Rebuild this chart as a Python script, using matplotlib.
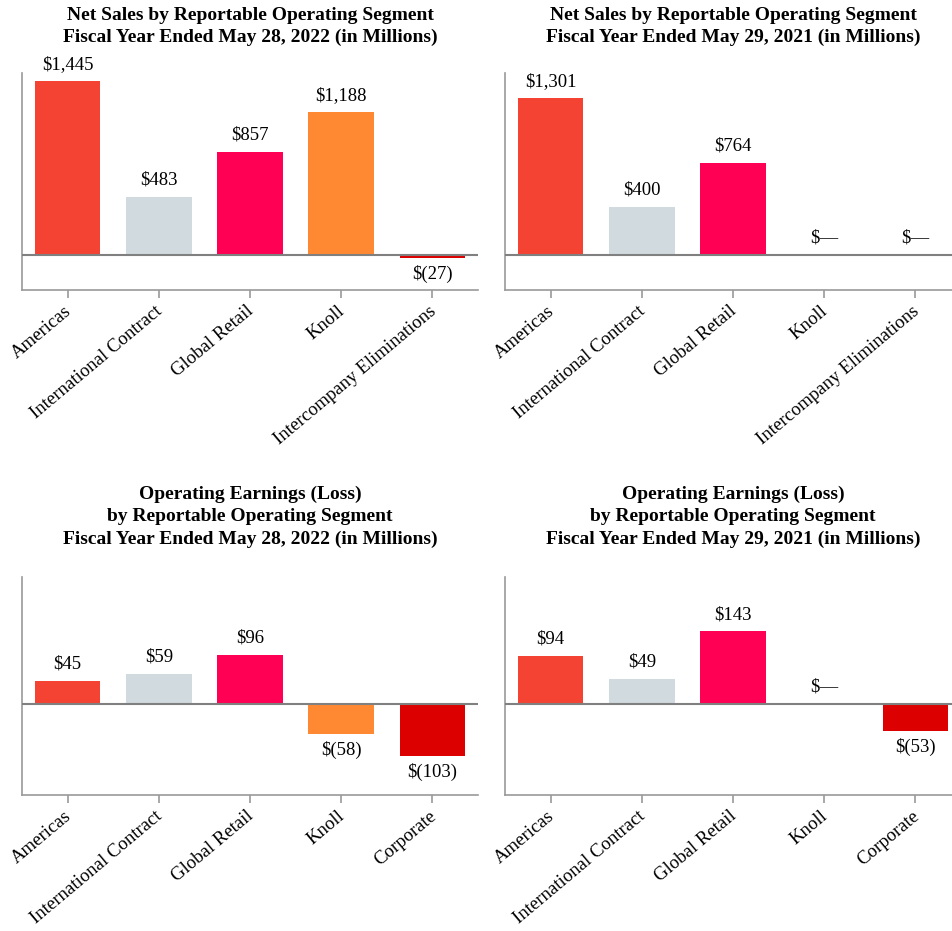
import matplotlib
matplotlib.use('Agg')
import matplotlib.pyplot as plt
from matplotlib.transforms import ScaledTranslation

plt.rcParams['font.family'] = ['Liberation Serif', 'DejaVu Serif']

# ---- data ----
sales_cats = ['Americas', 'International Contract', 'Global Retail', 'Knoll',
              'Intercompany Eliminations']
sales_2022 = [1445, 483, 857, 1188, -27]
sales_2021 = [1301, 400, 764, 0, 0]

earn_cats = ['Americas', 'International Contract', 'Global Retail', 'Knoll', 'Corporate']
earn_2022 = [45, 59, 96, -58, -103]
earn_2021 = [94, 49, 143, 0, -53]

colors = ['#F44333', '#D1DADF', '#FF0055', '#FF8833', '#DD0000']

titles = [
    'Net Sales by Reportable Operating Segment\nFiscal Year Ended May 28, 2022 (in Millions)',
    'Net Sales by Reportable Operating Segment\nFiscal Year Ended May 29, 2021 (in Millions)',
    'Operating Earnings (Loss)\nby Reportable Operating Segment\nFiscal Year Ended May 28, 2022 (in Millions)',
    'Operating Earnings (Loss)\nby Reportable Operating Segment\nFiscal Year Ended May 29, 2021 (in Millions)',
]


def fmt(v):
    if v == 0:
        return '$—'
    if v < 0:
        return f'$({abs(v):,})'
    return f'${v:,}'


fig = plt.figure(figsize=(9.52, 9.31), dpi=100)

# axes boxes in figure fractions: [left, bottom, width, height]
W = 0.479
boxes = [
    [0.0231, 0.6885, W, 0.2331],
    [0.5305, 0.6885, W, 0.2331],
    [0.0231, 0.1461, W, 0.2341],
    [0.5305, 0.1461, W, 0.2341],
]
panels = [
    (sales_cats, sales_2022, (-290, 1512)),
    (sales_cats, sales_2021, (-290, 1512)),
    (earn_cats, earn_2022, (-179, 250)),
    (earn_cats, earn_2021, (-179, 250)),
]
title_y = [1 - 7 / 931, 1 - 7 / 931, 1 - 486 / 931, 1 - 486 / 931]

for box, (cats, vals, ylim), title, ty in zip(boxes, panels, titles, title_y):
    ax = fig.add_axes(box)
    x = range(len(cats))
    ax.bar(x, vals, width=0.72, color=colors, zorder=2)
    ax.axhline(0, color='#808080', lw=1.5, zorder=3)
    ax.set_xlim(-0.5, len(cats) - 0.5)
    ax.set_ylim(*ylim)
    for s in ['top', 'right']:
        ax.spines[s].set_visible(False)
    for s in ['left', 'bottom']:
        ax.spines[s].set_color('#9a9a9a')
        ax.spines[s].set_linewidth(1.2)
    ax.set_yticks([])
    ax.set_xticks(list(x))
    ax.set_xticklabels(cats, rotation=40, ha='right', rotation_mode='anchor',
                       fontsize=13.5)
    ax.tick_params(axis='x', length=6, width=1.2, color='#9a9a9a', pad=3)
    shift = ScaledTranslation(-4 / 100, 0, fig.dpi_scale_trans)
    for lab in ax.get_xticklabels():
        lab.set_transform(lab.get_transform() + shift)
    for xi, v in zip(x, vals):
        if v < 0:
            ax.annotate(fmt(v), (xi, v), xytext=(0, -5), textcoords='offset points',
                        ha='center', va='top', fontsize=13.5)
        elif v == 0:
            ax.annotate(fmt(v), (xi, v), xytext=(0, 6), textcoords='offset points',
                        ha='center', va='bottom', fontsize=13.5)
        else:
            ax.annotate(fmt(v), (xi, v), xytext=(0, 6), textcoords='offset points',
                        ha='center', va='bottom', fontsize=13.5)
    cx = box[0] + W / 2
    fig.text(cx, ty, title, ha='center', va='top', fontsize=14,
             fontweight='bold', linespacing=1.38)

fig.savefig('out.png', dpi=100, facecolor='white')
